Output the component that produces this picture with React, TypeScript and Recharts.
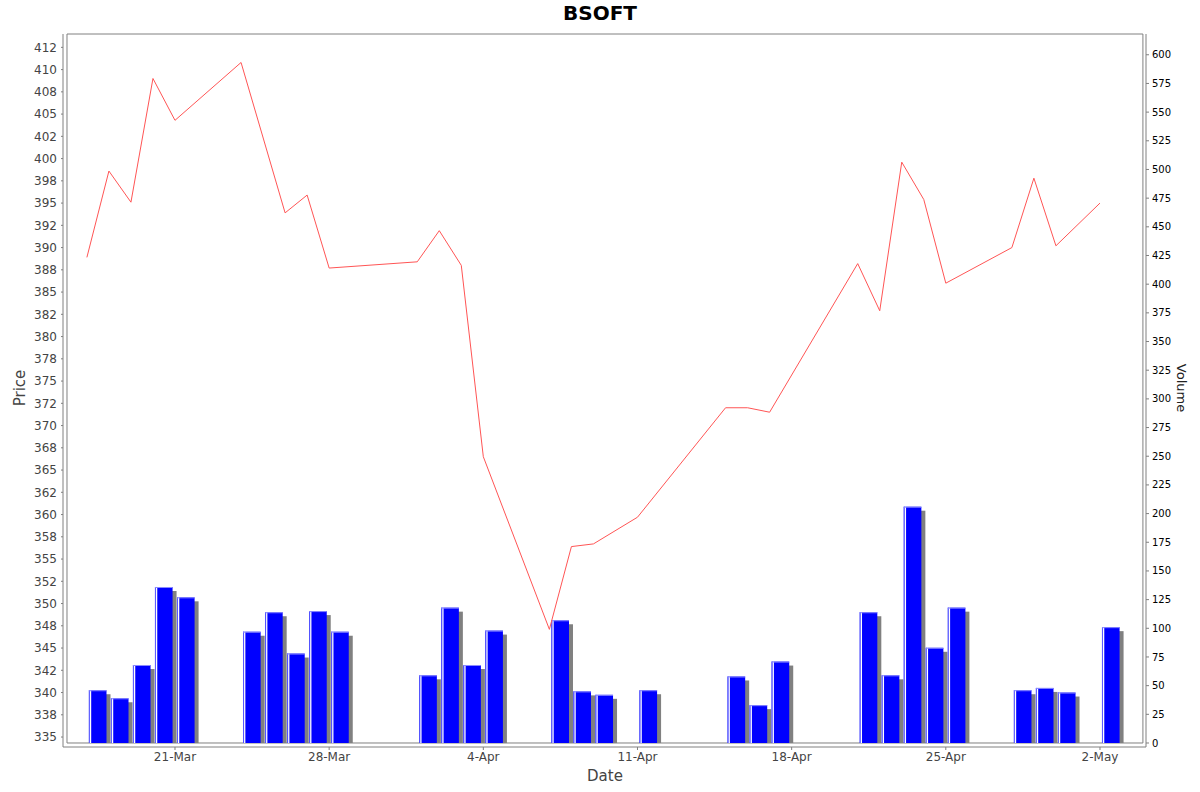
import React from 'react';
import { ComposedChart, Line, Bar, XAxis, YAxis, ReferenceArea } from 'recharts';

// trading days shown on the chart
const dates = [
    '2014-03-17', '2014-03-18', '2014-03-19', '2014-03-20', '2014-03-21',
    '2014-03-24', '2014-03-25', '2014-03-26', '2014-03-27', '2014-03-28',
    '2014-04-01', '2014-04-02', '2014-04-03', '2014-04-04',
    '2014-04-07', '2014-04-08', '2014-04-09', '2014-04-11',
    '2014-04-15', '2014-04-16', '2014-04-17',
    '2014-04-21', '2014-04-22', '2014-04-23', '2014-04-24', '2014-04-25',
    '2014-04-28', '2014-04-29', '2014-04-30', '2014-05-02'
];

const prices = [
    388.9, 398.6, 395.1, 409.0, 404.3,
    410.8, null, 393.9, 395.9, 387.7,
    388.4, 391.9, 388.0, 366.5,
    347.1, 356.4, 356.7, 359.7,
    372.0, 372.0, 371.5,
    388.2, 382.9, 399.6, 395.4, 386.0,
    390.0, 397.8, 390.2, 395.0
];

const volumes = [
    46, 39, 68, 136, 127,
    97, 114, 78, 115, 97,
    59, 118, 68, 98,
    107, 45, 42, 46,
    58, 33, 71,
    114, 59, 206, 83, 118,
    46, 48, 44, 101
];

const dateTicks = ['2014-03-21', '2014-03-28', '2014-04-04', '2014-04-11', '2014-04-18', '2014-04-25', '2014-05-02'];

const priceTicks = [
    335, 337.5, 340, 342.5, 345, 347.5, 350, 352.5, 355, 357.5, 360, 362.5, 365, 367.5,
    370, 372.5, 375, 377.5, 380, 382.5, 385, 387.5, 390, 392.5, 395, 397.5, 400, 402.5,
    405, 407.5, 410, 412.5
];

const volumeTicks = [
    0, 25, 50, 75, 100, 125, 150, 175, 200, 225, 250, 275, 300, 325, 350, 375, 400,
    425, 450, 475, 500, 525, 550, 575, 600
];

const MONTHS = ['Jan', 'Feb', 'Mar', 'Apr', 'May', 'Jun', 'Jul', 'Aug', 'Sep', 'Oct', 'Nov', 'Dec'];
const START = Date.UTC(2014, 2, 17);
const DAY = 86400000;

const toDay = (iso: string) => {
    const [y, m, d] = iso.split('-').map(Number);
    return (Date.UTC(y, m - 1, d) - START) / DAY;
};

const fmtDay = (v: number) => {
    const d = new Date(START + v * DAY);
    return `${d.getUTCDate()}-${MONTHS[d.getUTCMonth()]}`;
};

// price labels are rounded half-to-even (412.5 -> 412, 407.5 -> 408)
const fmtPrice = (v: number) => {
    const f = Math.floor(v);
    const r = v - f;
    if (Math.abs(r - 0.5) < 1e-9) return String(f % 2 === 0 ? f : f + 1);
    return String(Math.round(v));
};

const data = dates.map((d, i) => ({
    t: toDay(d),
    tb: toDay(d) + 0.5,
    price: prices[i],
    volume: volumes[i]
}));

const X_DOMAIN: [number, number] = [-1.085, 48.09];
const PRICE_DOMAIN: [number, number] = [333.88, 414];
const VOL_DOMAIN: [number, number] = [-3.49, 618.1];

const FONT = '"DejaVu Sans", sans-serif';
const AXIS = '#808080';

const VolumeBar = (props: any) => {
    const { x, y, width, height } = props;
    if (!height || height <= 0) return null;
    return (
        <g>
            <rect x={x + 4} y={y + 4} width={width} height={Math.max(height - 4, 0)} fill="#808080" />
            <rect x={x} y={y} width={width} height={height} fill="#0000ff" />
            <rect x={x} y={y} width={1} height={height} fill="#5a5aff" />
            <rect x={x + 1} y={y} width={1.3} height={height} fill="#ffffff" />
            <rect x={x} y={y} width={width} height={1} fill="#8a8aff" />
        </g>
    );
};

export default function App() {
    return (
        <div style={{ position: 'absolute', left: 0, top: 0, width: 1200, height: 792, background: '#fff', fontFamily: FONT }}>
            <div style={{ position: 'absolute', top: 0, left: 0, width: 1200, textAlign: 'center', fontSize: 20, fontWeight: 'bold', lineHeight: '26px', color: '#000' }}>
                BSOFT
            </div>
            <ComposedChart
                width={1200}
                height={792}
                data={data}
                margin={{ top: 34, right: 0, bottom: 0, left: 0 }}
            >
                <XAxis
                    xAxisId="main"
                    dataKey="t"
                    type="number"
                    domain={X_DOMAIN}
                    allowDataOverflow
                    ticks={dateTicks.map(toDay)}
                    tickFormatter={fmtDay}
                    height={45}
                    tickSize={3}
                    tickMargin={2}
                    stroke={AXIS}
                    tick={{ fill: '#444', fontSize: 12, fontFamily: FONT }}
                />
                <XAxis
                    xAxisId="bars"
                    dataKey="tb"
                    type="number"
                    domain={X_DOMAIN}
                    allowDataOverflow
                    orientation="top"
                    height={0}
                    hide
                />
                <YAxis
                    yAxisId="price"
                    orientation="left"
                    type="number"
                    domain={PRICE_DOMAIN}
                    allowDataOverflow
                    ticks={priceTicks}
                    interval={0}
                    tickFormatter={fmtPrice}
                    width={63}
                    tickSize={2}
                    tickMargin={4}
                    stroke={AXIS}
                    tick={{ fill: '#444', fontSize: 12, fontFamily: FONT }}
                />
                <YAxis
                    yAxisId="vol"
                    orientation="right"
                    type="number"
                    domain={VOL_DOMAIN}
                    allowDataOverflow
                    ticks={volumeTicks}
                    interval={0}
                    width={54}
                    tickSize={3}
                    tickMargin={3}
                    stroke={AXIS}
                    tick={{ fill: '#000', fontSize: 10, fontFamily: FONT }}
                />
                <ReferenceArea
                    xAxisId="main"
                    yAxisId="price"
                    x1={-0.904}
                    x2={47.95}
                    y1={334.33}
                    y2={414}
                    fill="none"
                    stroke={AXIS}
                    strokeWidth={1}
                    ifOverflow="visible"
                />
                <Bar
                    xAxisId="bars"
                    yAxisId="vol"
                    dataKey="volume"
                    barSize={17.6}
                    shape={<VolumeBar />}
                    isAnimationActive={false}
                />
                <Line
                    xAxisId="main"
                    yAxisId="price"
                    dataKey="price"
                    type="linear"
                    stroke="#ff5555"
                    strokeWidth={1}
                    dot={false}
                    activeDot={false}
                    connectNulls
                    isAnimationActive={false}
                />
            </ComposedChart>
            <div style={{ position: 'absolute', left: 20, top: 388, transform: 'translate(-50%, -50%) rotate(-90deg)', fontSize: 15, color: '#444', whiteSpace: 'nowrap' }}>
                Price
            </div>
            <div style={{ position: 'absolute', left: 1181, top: 388, transform: 'translate(-50%, -50%) rotate(90deg)', fontSize: 13, color: '#222', whiteSpace: 'nowrap' }}>
                Volume
            </div>
            <div style={{ position: 'absolute', left: 605, top: 776, transform: 'translate(-50%, -50%)', fontSize: 15, color: '#444', whiteSpace: 'nowrap' }}>
                Date
            </div>
        </div>
    );
}
